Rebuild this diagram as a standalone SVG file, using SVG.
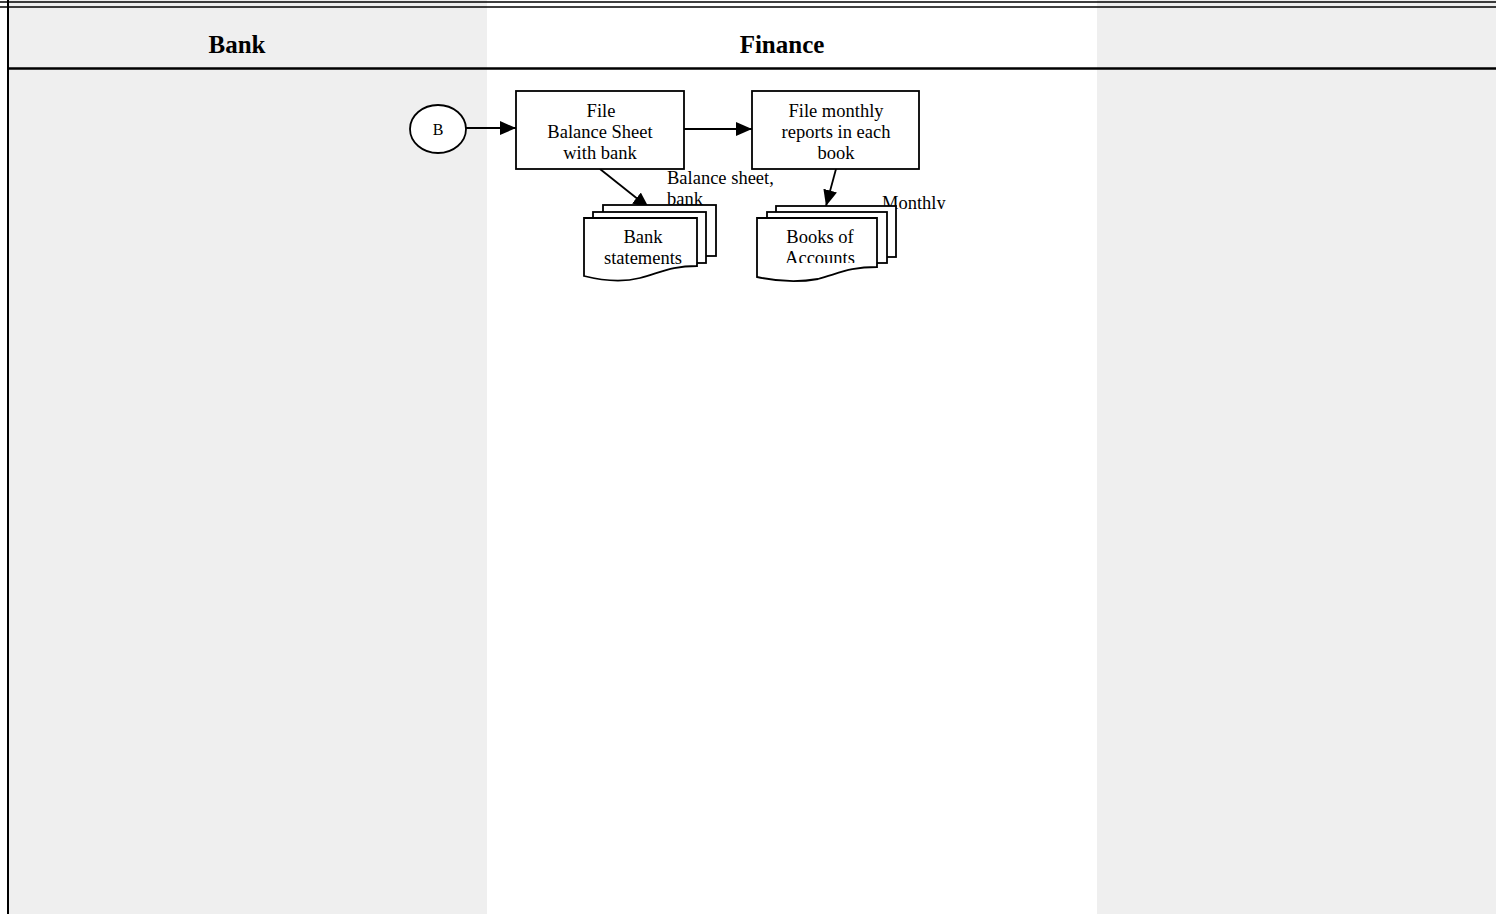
<svg xmlns="http://www.w3.org/2000/svg" width="1496" height="914" viewBox="0 0 1496 914">
<style>
text{font-family:"Liberation Serif","Times New Roman",serif;fill:#000}
.h{font-size:25px;font-weight:bold;text-anchor:middle}
.t{font-size:18.5px;text-anchor:middle}
.l{font-size:18.5px}
.s{fill:#fff;stroke:#000;stroke-width:1.8}
.c{stroke:#000;stroke-width:1.8;fill:none}
</style>
<defs>
<marker id="ah2" viewBox="0 0 16 14" refX="16" refY="7" markerWidth="16" markerHeight="14" markerUnits="userSpaceOnUse" orient="auto">
<path d="M0,0 L16,7 L0,14 z" fill="#000"/>
</marker>
<clipPath id="cpA"><rect x="757" y="218" width="120" height="45"/></clipPath>
<clipPath id="cpM"><rect x="870" y="190" width="90" height="19"/></clipPath>
</defs>
<g id="lanes">
<rect x="9" y="0" width="478" height="914" fill="#efefef"/>
<rect x="487" y="0" width="610" height="914" fill="#fff"/>
<rect x="1097" y="0" width="399" height="914" fill="#efefef"/>
<line x1="0" y1="2" x2="1496" y2="2" stroke="#000" stroke-width="1.5"/>
<line x1="0" y1="7" x2="1496" y2="7" stroke="#000" stroke-width="1.5"/>
<line x1="8" y1="0" x2="8" y2="914" stroke="#000" stroke-width="2"/>
<line x1="8" y1="68.5" x2="1496" y2="68.5" stroke="#000" stroke-width="2.5"/>
<text class="h" x="237" y="53">Bank</text>
<text class="h" x="782" y="53">Finance</text>
</g>
<g id="connectors">
<line class="c" x1="466" y1="128" x2="516" y2="128" marker-end="url(#ah2)"/>
<line class="c" x1="684" y1="129" x2="752" y2="129" marker-end="url(#ah2)"/>
<line class="c" x1="600" y1="169" x2="649" y2="208" marker-end="url(#ah2)"/>
<line class="c" x1="836" y1="169" x2="826" y2="206" marker-end="url(#ah2)"/>
<text class="l" x="667" y="184">Balance sheet,</text>
<text class="l" x="667" y="205">bank</text>
<text class="l" x="882" y="209" clip-path="url(#cpM)">Monthly</text>
</g>
<g id="nodeB">
<ellipse class="s" cx="438" cy="129" rx="28" ry="24"/>
<text class="t" x="438" y="135" style="font-size:16px">B</text>
</g>
<g id="node1">
<rect class="s" x="516" y="91" width="168" height="78"/>
<text class="t" x="601" y="117">File</text>
<text class="t" x="600" y="138">Balance Sheet</text>
<text class="t" x="600" y="159">with bank</text>
</g>
<g id="node2">
<rect class="s" x="752" y="91" width="167" height="78"/>
<text class="t" x="836" y="117">File monthly</text>
<text class="t" x="836" y="138">reports in each</text>
<text class="t" x="836" y="159">book</text>
</g>
<g id="docBank">
<rect class="s" x="603" y="205" width="113" height="51"/>
<rect class="s" x="593" y="212" width="113" height="51"/>
<path class="s" d="M584,218 H697 V266 C672,266 662,272 640,278 C620,283 600,280 584,276 Z"/>
<text class="t" x="643" y="243">Bank</text>
<text class="t" x="643" y="264">statements</text>
</g>
<g id="docBooks">
<rect class="s" x="776" y="206" width="120" height="51"/>
<rect class="s" x="767" y="212" width="120" height="51"/>
<path class="s" d="M757,218 H877 V267 C850,267 840,273 818,279 C796,283 775,281 757,277 Z"/>
<text class="t" x="820" y="243">Books of</text>
<text class="t" x="820" y="264" clip-path="url(#cpA)">Accounts</text>
</g>
</svg>
